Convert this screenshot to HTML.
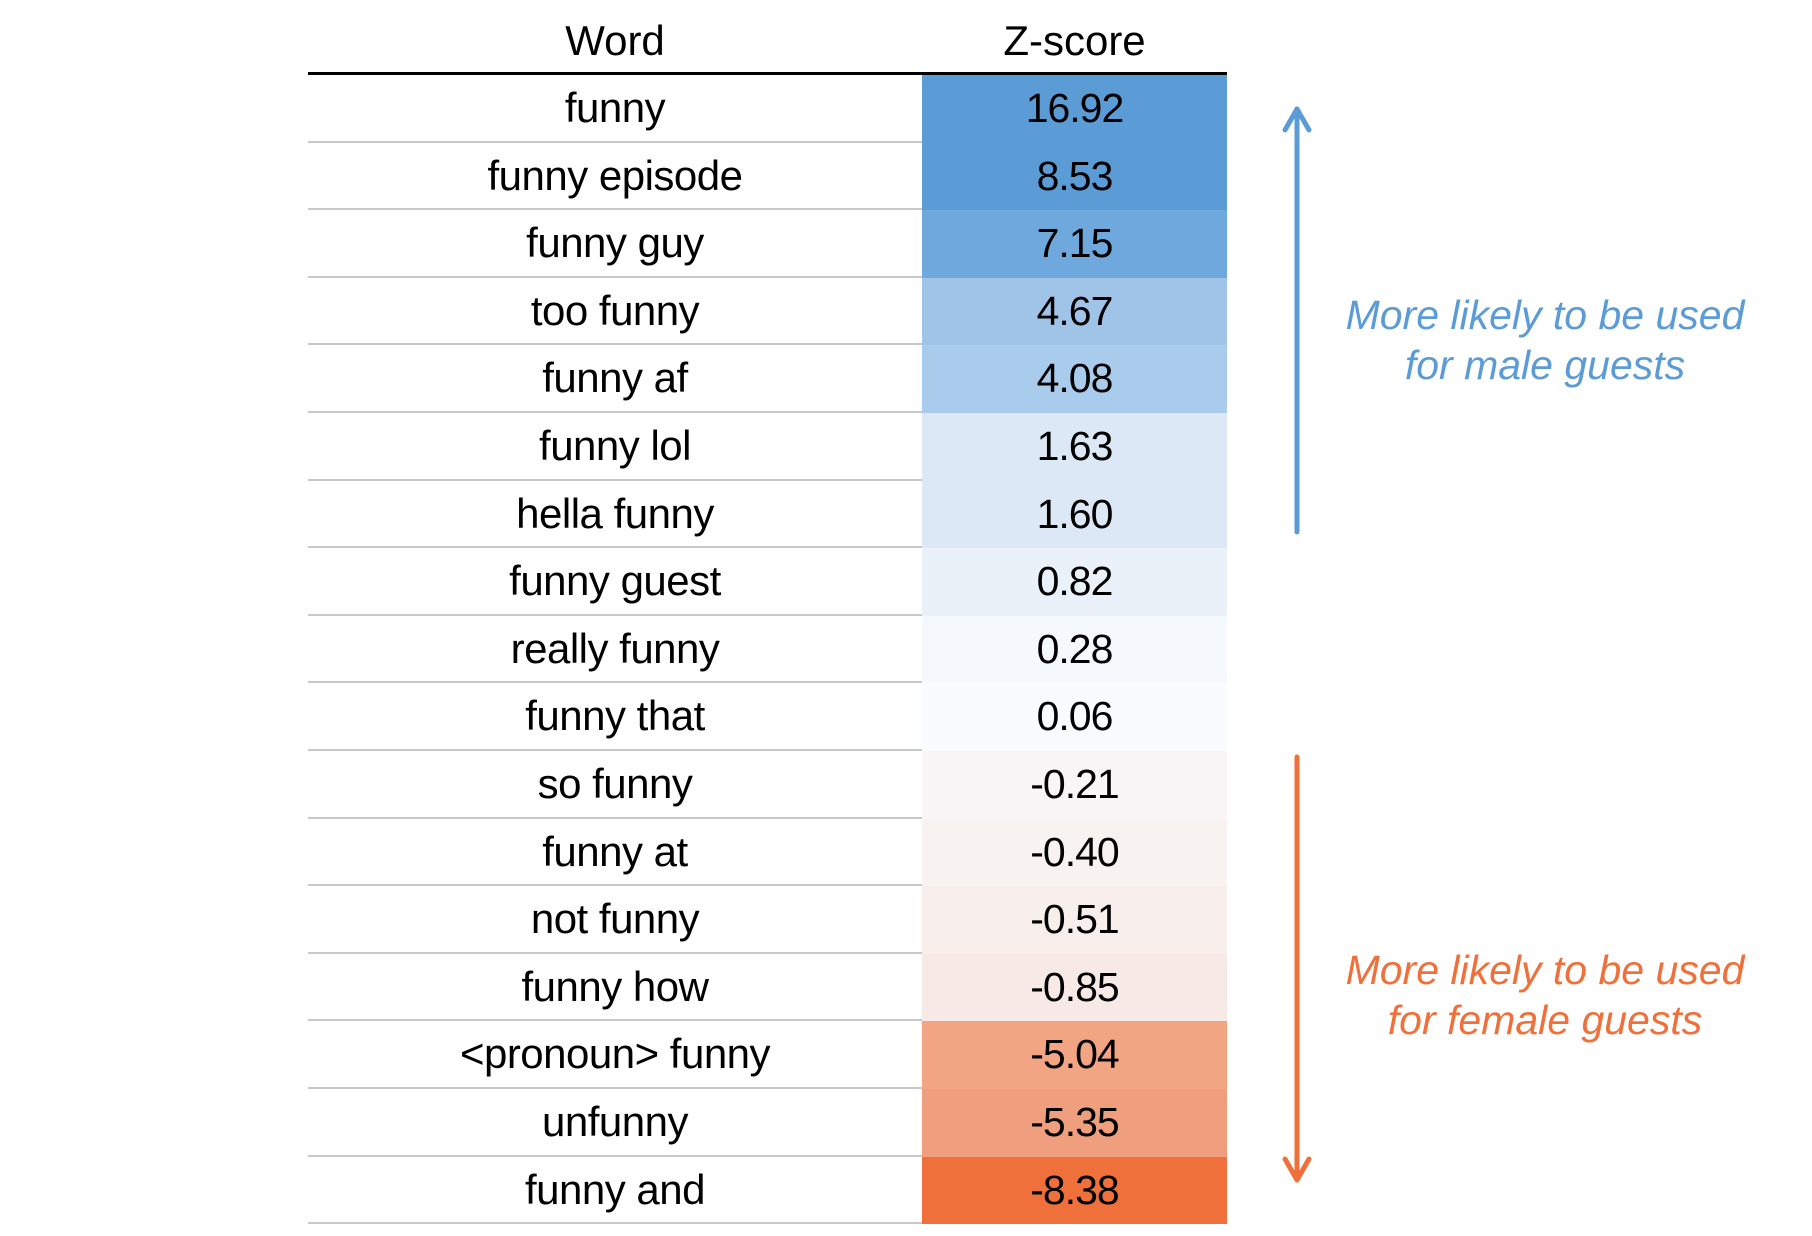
<!DOCTYPE html>
<html><head><meta charset="utf-8"><style>
html,body{margin:0;padding:0;background:#fff;}
body{width:1812px;height:1236px;position:relative;overflow:hidden;font-family:"Liberation Sans",sans-serif;}
.h{position:absolute;top:12px;font-size:42px;color:#000;text-align:center;line-height:58px;}
.row{position:absolute;left:308px;width:919px;height:65.6px;border-bottom:2px solid #c8c8c8;}
.w{position:absolute;left:0;width:614px;text-align:center;font-size:42px;line-height:66px;letter-spacing:-0.5px;}
.z{position:absolute;left:614px;width:305px;height:67.6px;text-align:center;font-size:41px;line-height:66px;letter-spacing:-1px;}
.note{position:absolute;left:1320px;width:450px;text-align:center;font-style:italic;font-size:41px;line-height:50px;}
</style></head><body>
<div class="h" style="left:308px;width:614px;">Word</div>
<div class="h" style="left:922px;width:305px;">Z-score</div>
<div style="position:absolute;left:308px;top:72px;width:919px;height:3px;background:#000;"></div>

<div class="row" style="top:75px;"><div class="w">funny</div><div class="z" style="background:#5b9bd6">16.92</div></div>
<div class="row" style="top:142.6px;"><div class="w">funny episode</div><div class="z" style="background:#5b9bd6">8.53</div></div>
<div class="row" style="top:210.2px;"><div class="w">funny guy</div><div class="z" style="background:#6ea8dc">7.15</div></div>
<div class="row" style="top:277.8px;"><div class="w">too funny</div><div class="z" style="background:#a0c4e7">4.67</div></div>
<div class="row" style="top:345.4px;"><div class="w">funny af</div><div class="z" style="background:#aaccec">4.08</div></div>
<div class="row" style="top:413px;"><div class="w">funny lol</div><div class="z" style="background:#dce8f5">1.63</div></div>
<div class="row" style="top:480.6px;"><div class="w">hella funny</div><div class="z" style="background:#dce8f5">1.60</div></div>
<div class="row" style="top:548.2px;"><div class="w">funny guest</div><div class="z" style="background:#eaf1f9">0.82</div></div>
<div class="row" style="top:615.8px;"><div class="w">really funny</div><div class="z" style="background:#f5f8fc">0.28</div></div>
<div class="row" style="top:683.4px;"><div class="w">funny that</div><div class="z" style="background:#fafbfd">0.06</div></div>
<div class="row" style="top:751px;"><div class="w">so funny</div><div class="z" style="background:#f8f6f6">-0.21</div></div>
<div class="row" style="top:818.6px;"><div class="w">funny at</div><div class="z" style="background:#f8f2f1">-0.40</div></div>
<div class="row" style="top:886.2px;"><div class="w">not funny</div><div class="z" style="background:#f8eeeb">-0.51</div></div>
<div class="row" style="top:953.8px;"><div class="w">funny how</div><div class="z" style="background:#f7e9e5">-0.85</div></div>
<div class="row" style="top:1021.4px;"><div class="w">&lt;pronoun&gt; funny</div><div class="z" style="background:#f2a583">-5.04</div></div>
<div class="row" style="top:1089px;"><div class="w">unfunny</div><div class="z" style="background:#f09f7e">-5.35</div></div>
<div class="row" style="top:1156.6px;"><div class="w">funny and</div><div class="z" style="background:#ef703a">-8.38</div></div>

<svg style="position:absolute;left:0;top:0" width="1812" height="1236">
<g fill="none" stroke-width="5" stroke-linecap="round" stroke-linejoin="round">
<path d="M1297 109 L1297 532" stroke="#5b9bd6"/>
<path d="M1285 130 L1297 109 L1309 130" stroke="#5b9bd6"/>
<path d="M1297 757 L1297 1180" stroke="#ef703a"/>
<path d="M1285 1159 L1297 1180 L1309 1159" stroke="#ef703a"/>
</g></svg>
<div class="note" style="top:290px;color:#5b9bd6;">More likely to be used<br>for male guests</div>
<div class="note" style="top:945px;color:#ef703a;">More likely to be used<br>for female guests</div>
</body></html>
